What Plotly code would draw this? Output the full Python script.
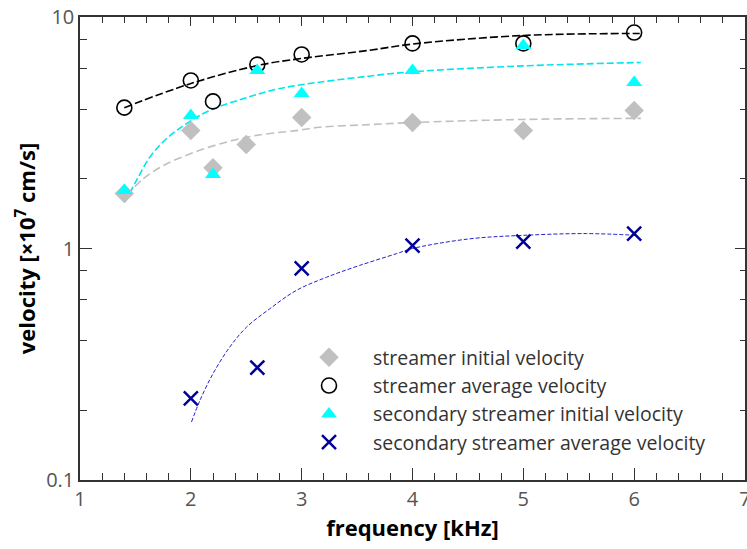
import plotly.graph_objects as go

# ---- measured data ----
freq_si = [1.4, 2.0, 2.2, 2.5, 3.0, 4.0, 5.0, 6.0]
v_si = [1.73, 3.23, 2.23, 2.81, 3.68, 3.50, 3.23, 3.95]

freq_sa = [1.4, 2.0, 2.2, 2.6, 3.0, 4.0, 5.0, 6.0]
v_sa = [4.06, 5.32, 4.32, 6.23, 6.89, 7.69, 7.69, 8.57]

freq_ssi = [1.4, 2.0, 2.2, 2.6, 3.0, 4.0, 5.0, 6.0]
v_ssi = [1.78, 3.75, 2.09, 5.87, 4.67, 5.87, 7.53, 5.21]

freq_ssa = [2.0, 2.6, 3.0, 4.0, 5.0, 6.0]
v_ssa = [0.225, 0.306, 0.82, 1.03, 1.07, 1.16]

# ---- fit curves ----
fit_sa_x = [1.4, 2.0, 2.6, 3.0, 3.6, 4.0, 5.0, 6.05]
fit_sa_y = [4.06, 5.16, 6.17, 6.62, 7.17, 7.64, 8.32, 8.49]

fit_ssi_x = [1.405, 1.51, 1.63, 1.78, 1.96, 2.17, 2.47, 2.75, 3.0, 3.6, 4.0, 5.0, 6.06]
fit_ssi_y = [1.585, 1.97, 2.48, 2.98, 3.46, 3.95, 4.43, 4.85, 5.1, 5.55, 5.8, 6.15, 6.36]

fit_si_x = [1.42, 1.57, 1.75, 1.99, 2.26, 2.59, 2.95, 3.16, 3.61, 4.0, 5.0, 6.06]
fit_si_y = [1.69, 2.0, 2.28, 2.56, 2.83, 3.08, 3.23, 3.34, 3.43, 3.50, 3.61, 3.65]

fit_ssa_x = [2.006, 2.081, 2.2, 2.351, 2.502, 2.712, 2.952, 3.223, 3.523, 3.853, 4.0, 4.51, 5.0, 5.57, 6.02]
fit_ssa_y = [0.178, 0.220, 0.288, 0.375, 0.457, 0.549, 0.659, 0.751, 0.845, 0.949, 1.0, 1.10, 1.14, 1.16, 1.14]

x_ticks = [1, 2, 3, 4, 5, 6, 7]
y_ticks = [0.1, 1, 10]
y_tick_text = ["0.1", "1", "10"]
y_minor = [0.2, 0.4, 0.6, 0.8, 2, 4, 6, 8]

names = ["streamer initial velocity", "streamer average velocity",
         "secondary streamer initial velocity", "secondary streamer average velocity"]

FONT = "Open Sans"
AX = "#333"

fig = go.Figure()

# fit lines
fig.add_trace(go.Scatter(x=fit_si_x, y=fit_si_y, mode="lines", line_shape="spline",
                         line=dict(color="#C0C0C0", width=1.6, dash="8px,4px"), showlegend=False, hoverinfo="skip"))
fig.add_trace(go.Scatter(x=fit_ssi_x, y=fit_ssi_y, mode="lines", line_shape="spline",
                         line=dict(color="#00E5EE", width=1.6, dash="7px,3px"), showlegend=False, hoverinfo="skip"))
fig.add_trace(go.Scatter(x=fit_sa_x, y=fit_sa_y, mode="lines", line_shape="spline",
                         line=dict(color="black", width=1.6, dash="8px,3px"), showlegend=False, hoverinfo="skip"))
fig.add_trace(go.Scatter(x=fit_ssa_x, y=fit_ssa_y, mode="lines", line_shape="spline",
                         line=dict(color="#2222CC", width=1, dash="4px,2px"), showlegend=False, hoverinfo="skip"))

# markers
fig.add_trace(go.Scatter(x=freq_si, y=v_si, mode="markers", name=names[0],
                         marker=dict(symbol="diamond", size=15, color="#C0C0C0")))
fig.add_trace(go.Scatter(x=freq_sa, y=v_sa, mode="markers", name=names[1],
                         marker=dict(symbol="circle-open", size=15, color="black", line=dict(width=1.6))))
fig.add_trace(go.Scatter(x=freq_ssi, y=v_ssi, mode="markers", name=names[2],
                         marker=dict(symbol="triangle-up", size=14, color="#00FFFF")))
fig.add_trace(go.Scatter(x=freq_ssa, y=v_ssa, mode="markers", name=names[3],
                         marker=dict(symbol="x-thin", size=14, color="#00009A", line=dict(width=2.5, color="#00009A"))))

# invisible trace to carry the mirrored (top/right) axes
fig.add_trace(go.Scatter(x=[None], y=[None], xaxis="x2", yaxis="y2", showlegend=False, hoverinfo="skip"))

tickfont = dict(family=FONT, size=20, color="#555")
minor_x = dict(dtick=0.2, ticks="inside", ticklen=7, tickcolor=AX, tickwidth=1.2)
minor_y = dict(tickvals=y_minor, ticks="inside", ticklen=7, tickcolor=AX, tickwidth=1.2)

fig.update_layout(
    width=747, height=549,
    margin=dict(l=80, r=2, t=17, b=69, autoexpand=False),
    plot_bgcolor="white", paper_bgcolor="white",
    xaxis=dict(range=[1, 7], tickvals=x_ticks, showline=True, linecolor=AX, linewidth=1.5, mirror=True,
               ticks="inside", tickcolor=AX, tickwidth=1.2, ticklen=12, showgrid=False, zeroline=False,
               tickfont=tickfont, ticklabeloverflow="allow", minor=minor_x, automargin=False,
               title=dict(text="<b>frequency [kHz]</b>", font=dict(family=FONT, size=22, color="black"), standoff=6)),
    yaxis=dict(type="log", range=[-1, 1], tickvals=y_ticks, ticktext=y_tick_text, showline=True, linecolor=AX,
               linewidth=1.5, mirror=True, ticks="inside", tickcolor=AX, tickwidth=1.2, ticklen=12,
               showgrid=False, zeroline=False, tickfont=tickfont, minor=minor_y, automargin=False,
               title=dict(text="<b>velocity [×10<sup>7</sup> cm/s]</b>", font=dict(family=FONT, size=22, color="black"), standoff=4)),
    xaxis2=dict(overlaying="x", side="top", anchor="y", range=[1, 7], tickvals=x_ticks, showticklabels=False,
                ticks="inside", tickcolor=AX, tickwidth=1.2, ticklen=9, showgrid=False, zeroline=False,
                showline=False, automargin=False,
                minor=dict(dtick=0.2, ticks="inside", ticklen=6, tickcolor=AX, tickwidth=1.2)),
    yaxis2=dict(overlaying="y", side="right", anchor="x", type="log", range=[-1, 1], tickvals=y_ticks,
                showticklabels=False, ticks="inside", tickcolor=AX, tickwidth=1.2, ticklen=10, showgrid=False,
                zeroline=False, showline=False, automargin=False,
                minor=dict(tickvals=y_minor, ticks="inside", ticklen=5, tickcolor=AX, tickwidth=1.2)),
    legend=dict(x=(285 - 80) / 665, y=(480 - 338) / 463, xanchor="left", yanchor="top",
                bgcolor="rgba(0,0,0,0)", font=dict(family=FONT, size=19.5, color="#333"),
                tracegroupgap=0, itemwidth=78),
)

fig.write_html("out.html")
